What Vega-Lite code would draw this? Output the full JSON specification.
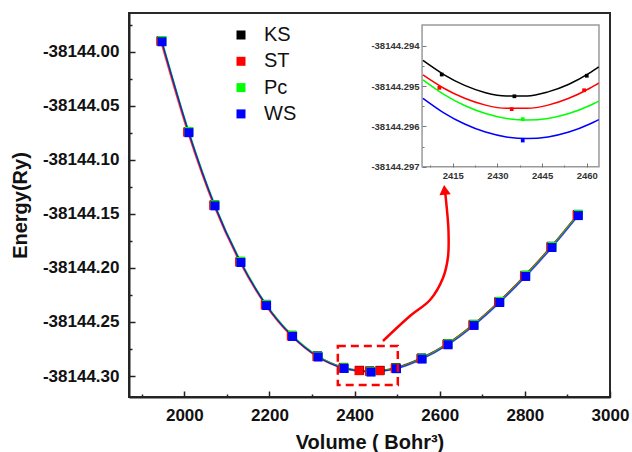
{
  "$schema": "https://vega.github.io/schema/vega-lite/v6.json",
  "width": 481,
  "height": 384,
  "autosize": {"type": "none"},
  "padding": {"left": 129, "top": 13, "right": 22, "bottom": 55},
  "background": "white",
  "config": {
    "font": "Liberation Sans",
    "view": {"stroke": "#2a2a2a", "strokeWidth": 2},
    "axis": {"grid": false, "labelFont": "Liberation Sans", "titleFont": "Liberation Sans"}
  },
  "datasets": {
    "main": [
      {"s": "KS", "v": 1946, "e": -38143.9897},
      {"s": "KS", "v": 2009.3, "e": -38144.0738},
      {"s": "KS", "v": 2070.4, "e": -38144.1415},
      {"s": "KS", "v": 2131.4, "e": -38144.1939},
      {"s": "KS", "v": 2191.7, "e": -38144.2337},
      {"s": "KS", "v": 2252.8, "e": -38144.2623},
      {"s": "KS", "v": 2312.9, "e": -38144.2813},
      {"s": "KS", "v": 2373.9, "e": -38144.292},
      {"s": "KS", "v": 2411.3, "e": -38144.29471},
      {"s": "KS", "v": 2435.7, "e": -38144.29525},
      {"s": "KS", "v": 2460, "e": -38144.29474},
      {"s": "KS", "v": 2496.9, "e": -38144.2922},
      {"s": "KS", "v": 2557, "e": -38144.2833},
      {"s": "KS", "v": 2618.1, "e": -38144.2701},
      {"s": "KS", "v": 2679.1, "e": -38144.2522},
      {"s": "KS", "v": 2739.5, "e": -38144.231},
      {"s": "KS", "v": 2800.5, "e": -38144.2068},
      {"s": "KS", "v": 2862.2, "e": -38144.18},
      {"s": "KS", "v": 2924.1, "e": -38144.1505},
      {"s": "ST", "v": 1944.5, "e": -38143.9903},
      {"s": "ST", "v": 2007.8, "e": -38144.0744},
      {"s": "ST", "v": 2068.9, "e": -38144.1421},
      {"s": "ST", "v": 2129.9, "e": -38144.1945},
      {"s": "ST", "v": 2190.2, "e": -38144.2343},
      {"s": "ST", "v": 2251.3, "e": -38144.263},
      {"s": "ST", "v": 2311.4, "e": -38144.282},
      {"s": "ST", "v": 2372.4, "e": -38144.2927},
      {"s": "ST", "v": 2410.5, "e": -38144.29504},
      {"s": "ST", "v": 2434.8, "e": -38144.29557},
      {"s": "ST", "v": 2459.1, "e": -38144.2951},
      {"s": "ST", "v": 2495.4, "e": -38144.2929},
      {"s": "ST", "v": 2555.5, "e": -38144.2839},
      {"s": "ST", "v": 2616.6, "e": -38144.2707},
      {"s": "ST", "v": 2677.6, "e": -38144.2527},
      {"s": "ST", "v": 2738, "e": -38144.2315},
      {"s": "ST", "v": 2799, "e": -38144.2074},
      {"s": "ST", "v": 2860.7, "e": -38144.1806},
      {"s": "ST", "v": 2922.6, "e": -38144.1511},
      {"s": "Pc", "v": 1947.5, "e": -38143.9896},
      {"s": "Pc", "v": 2010.8, "e": -38144.0738},
      {"s": "Pc", "v": 2071.9, "e": -38144.1415},
      {"s": "Pc", "v": 2132.9, "e": -38144.194},
      {"s": "Pc", "v": 2193.2, "e": -38144.2339},
      {"s": "Pc", "v": 2254.3, "e": -38144.2626},
      {"s": "Pc", "v": 2314.4, "e": -38144.2817},
      {"s": "Pc", "v": 2375.4, "e": -38144.2924},
      {"s": "Pc", "v": 2438.5, "e": -38144.29582},
      {"s": "Pc", "v": 2498.4, "e": -38144.2927},
      {"s": "Pc", "v": 2558.5, "e": -38144.2836},
      {"s": "Pc", "v": 2619.6, "e": -38144.2703},
      {"s": "Pc", "v": 2680.6, "e": -38144.2522},
      {"s": "Pc", "v": 2741, "e": -38144.231},
      {"s": "Pc", "v": 2802, "e": -38144.2068},
      {"s": "Pc", "v": 2863.7, "e": -38144.18},
      {"s": "Pc", "v": 2925.6, "e": -38144.1504},
      {"s": "WS", "v": 1947.5, "e": -38143.9908},
      {"s": "WS", "v": 2010.8, "e": -38144.0749},
      {"s": "WS", "v": 2071.9, "e": -38144.1426},
      {"s": "WS", "v": 2132.9, "e": -38144.195},
      {"s": "WS", "v": 2193.2, "e": -38144.2348},
      {"s": "WS", "v": 2254.3, "e": -38144.2634},
      {"s": "WS", "v": 2314.4, "e": -38144.2824},
      {"s": "WS", "v": 2375.4, "e": -38144.293},
      {"s": "WS", "v": 2438.5, "e": -38144.29635},
      {"s": "WS", "v": 2498.4, "e": -38144.2932},
      {"s": "WS", "v": 2558.5, "e": -38144.2843},
      {"s": "WS", "v": 2619.6, "e": -38144.2711},
      {"s": "WS", "v": 2680.6, "e": -38144.2532},
      {"s": "WS", "v": 2741, "e": -38144.232},
      {"s": "WS", "v": 2802, "e": -38144.2079},
      {"s": "WS", "v": 2863.7, "e": -38144.1811},
      {"s": "WS", "v": 2925.6, "e": -38144.1516}
    ],
    "inset": [
      {"s": "KS", "v": 2405, "e": -38144.29436},
      {"s": "KS", "v": 2412, "e": -38144.29471},
      {"s": "KS", "v": 2419, "e": -38144.29498},
      {"s": "KS", "v": 2426, "e": -38144.29516},
      {"s": "KS", "v": 2433, "e": -38144.29524},
      {"s": "KS", "v": 2440, "e": -38144.29524},
      {"s": "KS", "v": 2447, "e": -38144.29514},
      {"s": "KS", "v": 2454, "e": -38144.29495},
      {"s": "KS", "v": 2461, "e": -38144.29467},
      {"s": "KS", "v": 2464, "e": -38144.29452},
      {"s": "ST", "v": 2405, "e": -38144.29472},
      {"s": "ST", "v": 2412, "e": -38144.29505},
      {"s": "ST", "v": 2419, "e": -38144.2953},
      {"s": "ST", "v": 2426, "e": -38144.29547},
      {"s": "ST", "v": 2433, "e": -38144.29555},
      {"s": "ST", "v": 2440, "e": -38144.29555},
      {"s": "ST", "v": 2447, "e": -38144.29547},
      {"s": "ST", "v": 2454, "e": -38144.2953},
      {"s": "ST", "v": 2461, "e": -38144.29505},
      {"s": "ST", "v": 2464, "e": -38144.29492},
      {"s": "Pc", "v": 2405, "e": -38144.29484},
      {"s": "Pc", "v": 2412, "e": -38144.2952},
      {"s": "Pc", "v": 2419, "e": -38144.29548},
      {"s": "Pc", "v": 2426, "e": -38144.29568},
      {"s": "Pc", "v": 2433, "e": -38144.2958},
      {"s": "Pc", "v": 2440, "e": -38144.29584},
      {"s": "Pc", "v": 2447, "e": -38144.2958},
      {"s": "Pc", "v": 2454, "e": -38144.29568},
      {"s": "Pc", "v": 2461, "e": -38144.29548},
      {"s": "Pc", "v": 2464, "e": -38144.29537},
      {"s": "WS", "v": 2405, "e": -38144.2953},
      {"s": "WS", "v": 2412, "e": -38144.29566},
      {"s": "WS", "v": 2419, "e": -38144.29594},
      {"s": "WS", "v": 2426, "e": -38144.29614},
      {"s": "WS", "v": 2433, "e": -38144.29626},
      {"s": "WS", "v": 2440, "e": -38144.2963},
      {"s": "WS", "v": 2447, "e": -38144.29626},
      {"s": "WS", "v": 2454, "e": -38144.29614},
      {"s": "WS", "v": 2461, "e": -38144.29594},
      {"s": "WS", "v": 2464, "e": -38144.29583}
    ],
    "insetPts": [
      {"s": "KS", "v": 2411.3, "e": -38144.29471},
      {"s": "KS", "v": 2435.7, "e": -38144.29525},
      {"s": "KS", "v": 2460, "e": -38144.29474},
      {"s": "ST", "v": 2410.5, "e": -38144.29504},
      {"s": "ST", "v": 2434.8, "e": -38144.29557},
      {"s": "ST", "v": 2459.1, "e": -38144.2951},
      {"s": "Pc", "v": 2438.5, "e": -38144.29582},
      {"s": "WS", "v": 2438.5, "e": -38144.29635}
    ],
    "box": [{"v": 2404.7, "v2": 2464.1, "e": -38144.29348, "e2": -38144.297}],
    "zoom": [{"v": 2360.6, "v2": 2501.5, "e": -38144.2723, "e2": -38144.3083}],
    "arrow": [
      {"i": 1, "v": 2466.7, "e": -38144.2676},
      {"i": 2, "v": 2530.1, "e": -38144.2445},
      {"i": 3, "v": 2577.1, "e": -38144.2297},
      {"i": 4, "v": 2607.6, "e": -38144.2093},
      {"i": 5, "v": 2619.4, "e": -38144.1899},
      {"i": 6, "v": 2620.5, "e": -38144.1649},
      {"i": 7, "v": 2614.7, "e": -38144.1372},
      {"i": 8, "v": 2613.0, "e": -38144.1307}
    ],
    "head": [{"v": 2611.4, "e": -38144.1278}]
  },
  "layer": [
    {
      "encoding": {
        "x": {
          "field": "v", "type": "quantitative",
          "scale": {"domain": [1870, 3000], "nice": false, "zero": false},
          "axis": {
            "title": "Volume ( Bohr³)", "zindex": 2,
            "values": [1900, 2000, 2100, 2200, 2300, 2400, 2500, 2600, 2700, 2800, 2900, 3000],
            "format": "d",
            "labelExpr": "datum.value % 200 === 0 ? datum.label : ''",
            "tickSize": {"condition": {"test": "datum.value % 200 === 0", "value": -6}, "value": -3},
            "tickColor": "#222", "tickWidth": 1.5,
            "domainColor": "#222", "domainWidth": 2,
            "labelFontSize": 17, "labelFontWeight": "bold", "labelColor": "#111",
            "labelPadding": 16, "labelFlush": false, "labelOverlap": false,
            "titleFontSize": 20, "titleFontWeight": "bold", "titleColor": "#111", "titlePadding": 6
          }
        },
        "y": {
          "field": "e", "type": "quantitative",
          "scale": {"domain": [-38144.3194, -38143.9642], "nice": false, "zero": false},
          "axis": {
            "title": "Energy(Ry)", "zindex": 2,
            "values": [-38144.3, -38144.275, -38144.25, -38144.225, -38144.2, -38144.175, -38144.15, -38144.125, -38144.1, -38144.075, -38144.05, -38144.025, -38144.0, -38143.975],
            "labelExpr": "abs(datum.value*20 - round(datum.value*20)) < 0.01 ? '-' + format(abs(datum.value), '.2f') : ''",
            "tickSize": {"condition": {"test": "abs(datum.value*20 - round(datum.value*20)) < 0.01", "value": -6}, "value": -3},
            "tickColor": "#222", "tickWidth": 1.5,
            "domainColor": "#222", "domainWidth": 2,
            "labelFontSize": 17, "labelFontWeight": "bold", "labelColor": "#111",
            "labelPadding": 16, "labelFlush": false, "labelOverlap": false,
            "titleFontSize": 20, "titleFontWeight": "bold", "titleColor": "#111", "titlePadding": 12
          }
        }
      },
      "layer": [
        {
          "data": {"name": "main"},
          "mark": {"type": "line", "interpolate": "monotone", "strokeWidth": 1.4, "opacity": 0.75},
          "encoding": {
            "stroke": {"field": "s", "type": "nominal", "scale": {"domain": ["WS", "Pc", "ST", "KS"], "range": ["#0000ff", "#00ff00", "#ff0000", "#000000"]}, "legend": null}
          }
        },
        {
          "data": {"name": "main"},
          "mark": {"type": "point", "shape": "square", "filled": true, "size": 81, "opacity": 1},
          "encoding": {
            "color": {
              "field": "s", "type": "nominal",
              "scale": {"domain": ["KS", "ST", "Pc", "WS"], "range": ["#000000", "#ff0000", "#00ff00", "#0000ff"]},
              "legend": {
                "orient": "none", "legendX": 102, "legendY": 12, "title": null,
                "symbolType": "square", "symbolSize": 81, "symbolStrokeWidth": 0,
                "labelFontSize": 20, "labelFont": "Liberation Sans", "labelColor": "#111",
                "labelOffset": 13, "rowPadding": 6.3
              }
            }
          }
        },
        {
          "data": {"name": "zoom"},
          "mark": {"type": "rect", "filled": false, "stroke": "#ff0000", "strokeWidth": 2.5, "strokeDash": [8, 5]},
          "encoding": {
            "x2": {"field": "v2"},
            "y2": {"field": "e2"}
          }
        },
        {
          "data": {"name": "arrow"},
          "mark": {"type": "line", "interpolate": "catmull-rom", "stroke": "#ff0000", "strokeWidth": 2.5},
          "encoding": {"order": {"field": "i", "type": "quantitative"}}
        },
        {
          "data": {"name": "head"},
          "mark": {"type": "point", "shape": "triangle-up", "filled": true, "size": 130, "angle": -6, "color": "#ff0000", "opacity": 1},
          "encoding": {}
        }
      ]
    },
    {
      "encoding": {
        "x": {
          "field": "v", "type": "quantitative",
          "scale": {"domain": [2306.3, 2467.8], "nice": false, "zero": false},
          "axis": {
            "orient": "bottom", "offset": -230, "title": null, "domain": false, "zindex": 2,
            "values": [2407.5, 2415, 2422.5, 2430, 2437.5, 2445, 2452.5, 2460],
            "labelExpr": "datum.value % 15 === 0 ? format(datum.value, 'd') : ''",
            "tickSize": {"condition": {"test": "datum.value % 15 === 0", "value": -4}, "value": -2},
            "tickColor": "#777", "tickWidth": 1,
            "labelFontSize": 9.5, "labelFontWeight": "bold", "labelColor": "#333",
            "labelPadding": 7, "labelFlush": false, "labelOverlap": false
          }
        },
        "y": {
          "field": "e", "type": "quantitative",
          "scale": {"domain": [-38144.302725, -38144.29318], "nice": false, "zero": false},
          "axis": {
            "orient": "left", "offset": -293, "title": null, "domain": false, "zindex": 2,
            "values": [-38144.297, -38144.2965, -38144.296, -38144.2955, -38144.295, -38144.2945, -38144.294],
            "labelExpr": "abs(datum.value*1000 - round(datum.value*1000)) < 0.01 ? '-' + format(abs(datum.value), '.3f') : ''",
            "tickSize": {"condition": {"test": "abs(datum.value*1000 - round(datum.value*1000)) < 0.01", "value": -4}, "value": -2},
            "tickColor": "#777", "tickWidth": 1,
            "labelFontSize": 9.5, "labelFontWeight": "bold", "labelColor": "#333",
            "labelPadding": 7, "labelFlush": false, "labelOverlap": false
          }
        }
      },
      "layer": [
        {
          "data": {"name": "box"},
          "mark": {"type": "rect", "filled": false, "stroke": "#9a9a9a", "strokeWidth": 1.5},
          "encoding": {"x2": {"field": "v2"}, "y2": {"field": "e2"}}
        },
        {
          "data": {"name": "inset"},
          "mark": {"type": "line", "interpolate": "monotone", "strokeWidth": 1.5},
          "encoding": {
            "stroke": {"field": "s", "type": "nominal", "scale": {"domain": ["WS", "Pc", "ST", "KS"], "range": ["#0000ff", "#00ff00", "#ff0000", "#000000"]}, "legend": null}
          }
        },
        {
          "data": {"name": "insetPts"},
          "mark": {"type": "point", "shape": "square", "filled": true, "size": 14, "opacity": 1},
          "encoding": {
            "fill": {"field": "s", "type": "nominal", "scale": {"domain": ["WS", "Pc", "ST", "KS"], "range": ["#0000ff", "#00ff00", "#ff0000", "#000000"]}, "legend": null}
          }
        }
      ]
    }
  ],
  "resolve": {"scale": {"x": "independent", "y": "independent"}}
}
